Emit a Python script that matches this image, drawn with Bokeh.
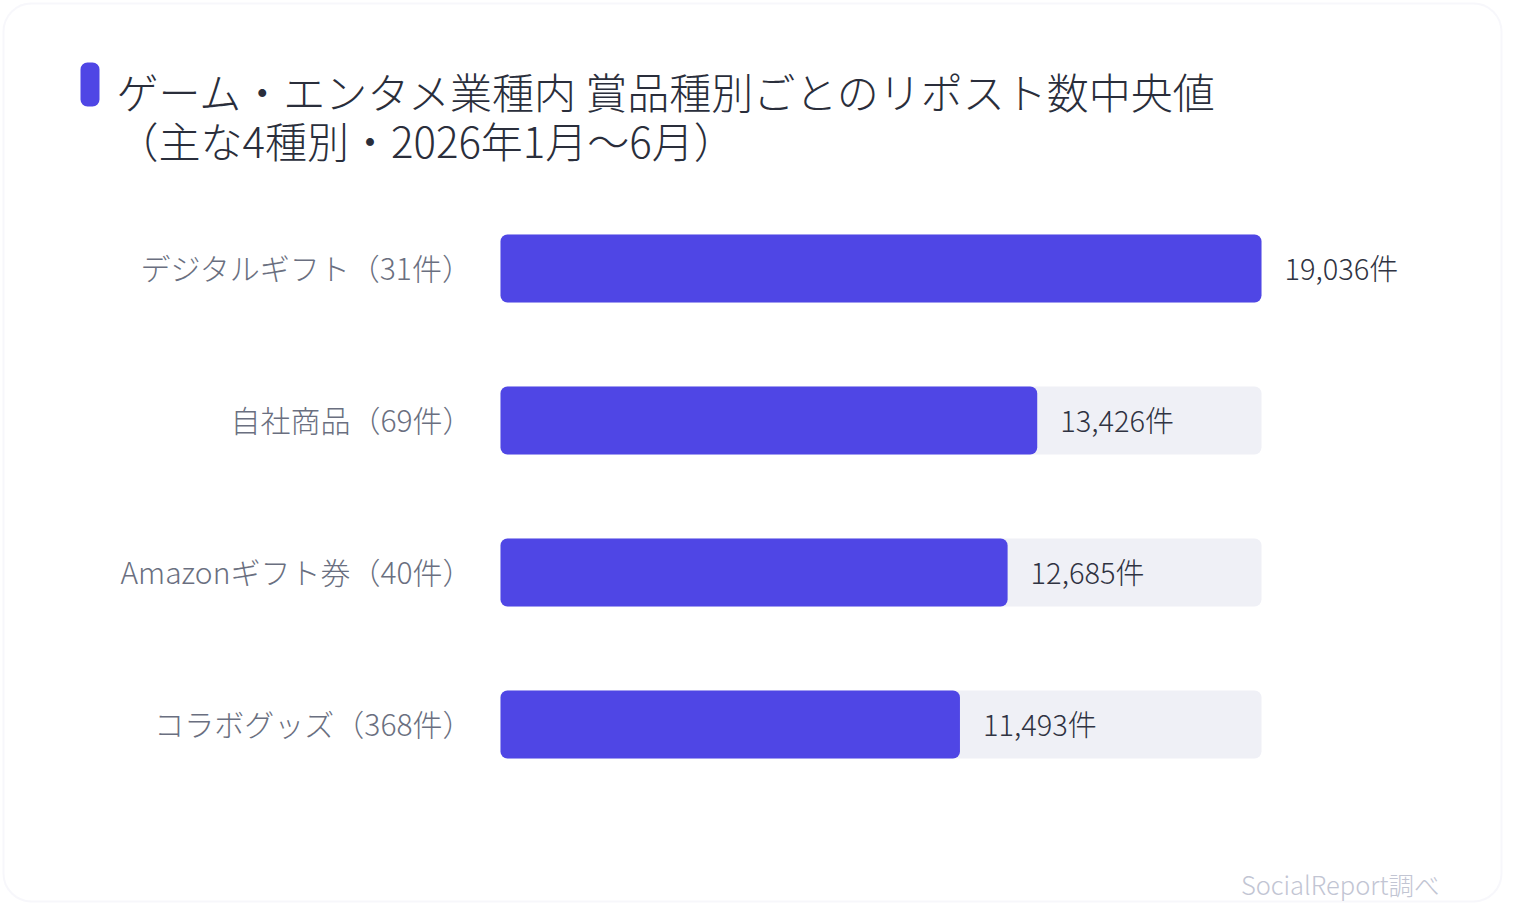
from bokeh.plotting import figure
from bokeh.models import ColumnDataSource, Range1d, Label, BoxAnnotation
from bokeh.core.properties import value
from bokeh.embed import file_html
from bokeh.resources import INLINE

# ---- data ----
categories = ["デジタルギフト", "自社商品", "Amazonギフト券", "コラボグッズ"]
post_counts = [31, 69, 40, 368]
median_reposts = [19036, 13426, 12685, 11493]
title_line1 = "ゲーム・エンタメ業種内 賞品種別ごとのリポスト数中央値"
title_line2 = "（主な4種別・2026年1月〜6月）"
source_note = "SocialReport調べ"

# ---- layout constants ----
W, H = 1504, 904
FONT = "Noto Sans CJK JP Light, Noto Sans CJK JP"
BAR = "#4f46e5"
TRACK = "#eff0f6"

vmax = max(median_reposts)
track_left_px, track_w_px = 500, 761
k = vmax / track_w_px
row0_px, row_step_px, bar_h_px = 268, 152, 68

x_range = Range1d(-track_left_px * k, (W - track_left_px) * k)
y_range = Range1d((H - row0_px) / row_step_px, -row0_px / row_step_px)

p = figure(width=W, height=H, x_range=x_range, y_range=y_range,
           output_backend="svg", toolbar_location=None,
           x_axis_location=None, y_axis_location=None,
           min_border=0, min_border_left=0, min_border_right=0,
           min_border_top=0, min_border_bottom=0)
p.outline_line_color = None
p.xgrid.visible = False
p.ygrid.visible = False
p.background_fill_color = "white"
p.border_fill_color = "white"

idx = list(range(len(categories)))
src = ColumnDataSource(dict(
    y=idx,
    value=median_reposts,
    track=[vmax] * len(categories),
    cat=[f"{c}（{n}件）" for c, n in zip(categories, post_counts)],
    vlabel=[f"{v:,}件" for v in median_reposts],
))

h = bar_h_px / row_step_px
p.hbar(y="y", left=0, right="track", height=h, source=src,
       fill_color=TRACK, line_color=None, border_radius=7)
p.hbar(y="y", left=0, right="value", height=h, source=src,
       fill_color=BAR, line_color=None, border_radius=7)

p.text(x="value", y="y", text="vlabel", source=src, x_offset=23, y_offset=-2,
       text_baseline="middle", text_align="left",
       text_font=value(FONT), text_font_size="29px", text_color="#2f3342")
p.text(x=0, y="y", text="cat", source=src, x_offset=-28, y_offset=-2,
       text_baseline="middle", text_align="right",
       text_font=value(FONT), text_font_size="30px", text_color="#6a6f80")

# card border
p.add_layout(BoxAnnotation(left=3, right=W - 3, bottom=3, top=H - 3,
                           left_units="screen", right_units="screen",
                           top_units="screen", bottom_units="screen",
                           fill_color=None, line_color="#e4e6f1",
                           line_width=2, border_radius=28))
# accent bar
p.add_layout(BoxAnnotation(left=80, right=99, bottom=H - 106, top=H - 62,
                           left_units="screen", right_units="screen",
                           top_units="screen", bottom_units="screen",
                           fill_color=BAR, fill_alpha=1.0, line_color=None,
                           border_radius=7))

p.add_layout(Label(x=116, y=H - 90, x_units="screen", y_units="screen",
                   text=title_line1, text_baseline="middle",
                   text_font=FONT, text_font_size="42px", text_color="#2a2e3b"))
p.add_layout(Label(x=116, y=H - 139, x_units="screen", y_units="screen",
                   text=title_line2, text_baseline="middle",
                   text_font=FONT, text_font_size="42px", text_color="#2a2e3b"))
p.add_layout(Label(x=1439, y=H - 883, x_units="screen", y_units="screen",
                   text=source_note, text_baseline="middle", text_align="right",
                   text_font=FONT, text_font_size="25.5px", text_color="#c2c5d3"))

open("out.html", "w").write(file_html(p, INLINE))
